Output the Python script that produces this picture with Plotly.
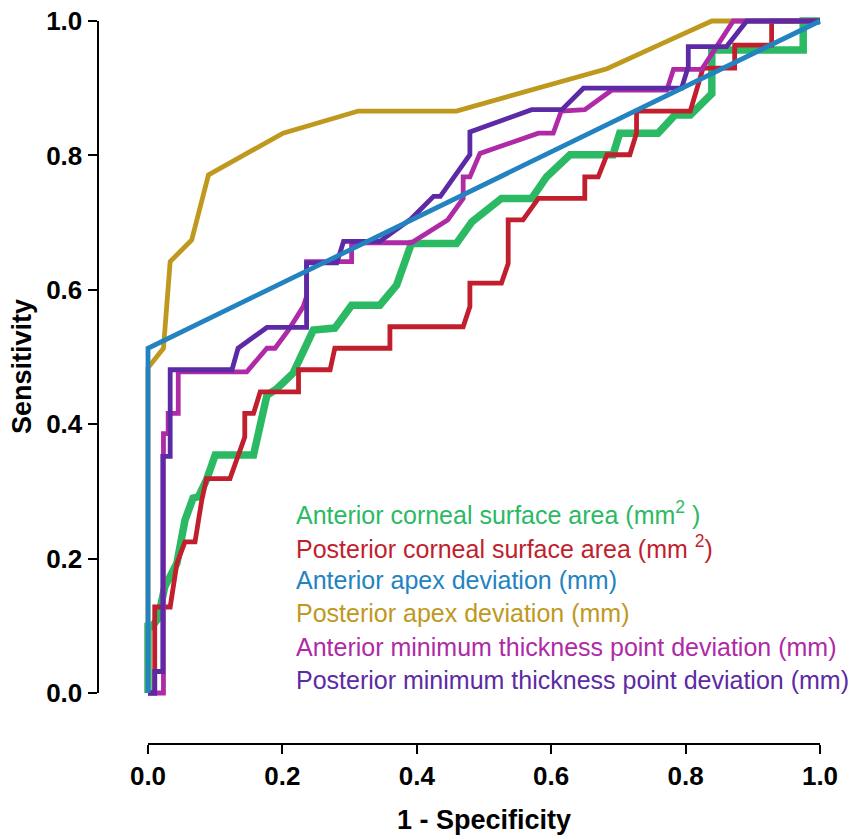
import plotly.graph_objects as go

# ---------------- data ----------------
ant_csa_fpr = [0, 0, 0.006, 0.015, 0.025, 0.043, 0.055, 0.067, 0.075, 0.087, 0.100, 0.157, 0.177, 0.192,
               0.216, 0.246, 0.278, 0.303, 0.345, 0.370, 0.392, 0.459, 0.482, 0.526, 0.571, 0.593,
               0.628, 0.692, 0.702, 0.759, 0.784, 0.807, 0.839, 0.839, 0.975, 0.975, 1.0]
ant_csa_tpr = [0, 0.099, 0.099, 0.111, 0.158, 0.193, 0.257, 0.290, 0.292, 0.317, 0.354, 0.354, 0.443, 0.453,
               0.476, 0.540, 0.543, 0.577, 0.577, 0.607, 0.669, 0.669, 0.701, 0.736, 0.736, 0.768,
               0.801, 0.801, 0.833, 0.833, 0.860, 0.860, 0.892, 0.957, 0.957, 1.0, 1.0]

post_csa_fpr = [0, 0.010, 0.010, 0.033, 0.043, 0.055, 0.070, 0.080, 0.087, 0.122, 0.144, 0.144, 0.157,
                0.167, 0.224, 0.224, 0.271, 0.278, 0.360, 0.360, 0.469, 0.479, 0.479, 0.526, 0.536,
                0.536, 0.558, 0.581, 0.650, 0.650, 0.670, 0.683, 0.717, 0.727, 0.727, 0.807, 0.826,
                0.873, 0.873, 0.928, 0.928, 1.0]
post_csa_tpr = [0, 0, 0.128, 0.128, 0.193, 0.225, 0.225, 0.287, 0.319, 0.319, 0.381, 0.416, 0.416,
                0.448, 0.448, 0.481, 0.481, 0.513, 0.513, 0.545, 0.545, 0.575, 0.610, 0.610, 0.639,
                0.704, 0.704, 0.736, 0.736, 0.768, 0.768, 0.801, 0.801, 0.833, 0.866, 0.866, 0.930,
                0.930, 0.964, 0.964, 1.0, 1.0]

ant_apex_fpr = [0, 0, 1.0]
ant_apex_tpr = [0, 0.513, 1.0]

post_apex_fpr = [0, 0, 0.023, 0.033, 0.065, 0.090, 0.201, 0.313, 0.459, 0.583, 0.683, 0.777, 0.839, 0.891, 1.0]
post_apex_tpr = [0, 0.484, 0.513, 0.642, 0.674, 0.771, 0.833, 0.866, 0.866, 0.900, 0.929, 0.972, 1.0, 1.0, 1.0]

ant_mtp_fpr = [0, 0.023, 0.023, 0.030, 0.030, 0.045, 0.045, 0.147, 0.177, 0.189, 0.209, 0.231, 0.236,
               0.236, 0.303, 0.303, 0.392, 0.446, 0.469, 0.469, 0.479, 0.494, 0.581, 0.603, 0.615,
               0.650, 0.690, 0.772, 0.782, 0.824, 0.871, 1.0]
ant_mtp_tpr = [0, 0, 0.386, 0.386, 0.416, 0.416, 0.478, 0.478, 0.513, 0.513, 0.540, 0.575, 0.590,
               0.642, 0.642, 0.670, 0.670, 0.704, 0.736, 0.768, 0.768, 0.803, 0.833, 0.833, 0.866,
               0.868, 0.897, 0.897, 0.928, 0.928, 1.0, 1.0]

post_mtp_fpr = [0, 0.010, 0.010, 0.022, 0.022, 0.033, 0.033, 0.125, 0.134, 0.177, 0.236, 0.236, 0.281,
                0.291, 0.345, 0.392, 0.425, 0.435, 0.479, 0.479, 0.571, 0.616, 0.648, 0.794, 0.804,
                0.804, 0.861, 0.891, 1.0]
post_mtp_tpr = [0, 0, 0.032, 0.032, 0.352, 0.352, 0.481, 0.481, 0.513, 0.544, 0.544, 0.640, 0.640,
                0.672, 0.672, 0.706, 0.739, 0.739, 0.801, 0.835, 0.868, 0.868, 0.900, 0.900, 0.932,
                0.962, 0.962, 1.0, 1.0]

series_names = [
    "Anterior corneal surface area (mm<sup>2</sup> )",
    "Posterior corneal surface area (mm <sup>2</sup>)",
    "Anterior apex deviation (mm)",
    "Posterior apex deviation (mm)",
    "Anterior minimum thickness point deviation (mm)",
    "Posterior minimum thickness point deviation (mm)",
]
tick_vals = [0, 0.2, 0.4, 0.6, 0.8, 1.0]
tick_text = ["0.0", "0.2", "0.4", "0.6", "0.8", "1.0"]

# ---------------- styling ----------------
OFF = 8.0                      # page body margin of the browser
W, H = 856 - int(OFF), 835 - int(OFF)
C_GREEN = "#2BBA63"
C_RED = "#C11F2E"
C_BLUE = "#2383C1"
C_GOLD = "#BE991E"
C_MAGENTA = "#AF2AA7"
C_PURPLE = "#5D2AA5"

series = [
    (ant_csa_fpr, ant_csa_tpr, C_GREEN, 7.5),
    (post_csa_fpr, post_csa_tpr, C_RED, 4.8),
    (post_apex_fpr, post_apex_tpr, C_GOLD, 4.8),
    (ant_mtp_fpr, ant_mtp_tpr, C_MAGENTA, 4.8),
    (post_mtp_fpr, post_mtp_tpr, C_PURPLE, 4.8),
    (ant_apex_fpr, ant_apex_tpr, C_BLUE, 4.8),
]


def px(x):
    return (x - OFF) / W


def py(y):
    return 1 - (y - OFF) / H


# pixel geometry in the reference window
X0, X1 = 148.0, 820.0     # x=0, x=1
Y0, Y1 = 693.0, 21.0      # y=0, y=1
pad = 0.025
pad_top = 0.015
sx = X1 - X0
sy = Y0 - Y1

fig = go.Figure()
for fx, ty, col, lw in series:
    fig.add_trace(go.Scatter(x=fx, y=ty, mode="lines",
                             line=dict(color=col, width=lw),
                             showlegend=False, hoverinfo="skip",
                             xaxis="x", yaxis="y"))

# dummy trace to create the display axes
fig.add_trace(go.Scatter(x=[None], y=[None], mode="lines", showlegend=False,
                         hoverinfo="skip", xaxis="x2", yaxis="y2"))

tick_font = dict(family="Liberation Sans, Arial, sans-serif", size=26, color="black")
tick_text_b = ["<b>%s</b>" % t for t in tick_text]

fig.update_layout(
    width=W, height=H,
    margin=dict(l=0, r=0, t=0, b=0, autoexpand=False),
    plot_bgcolor="rgba(0,0,0,0)", paper_bgcolor="white",
    xaxis=dict(domain=[px(X0 - pad * sx), px(X1 + pad * sx)], range=[-pad, 1 + pad],
               visible=False, fixedrange=True),
    yaxis=dict(domain=[py(Y0 + pad * sy), py(Y1 - pad_top * sy)], range=[-pad, 1 + pad_top],
               visible=False, fixedrange=True),
    xaxis2=dict(domain=[px(X0), px(X1)], range=[0, 1], anchor="free", position=py(744),
                showgrid=False, zeroline=False, showline=True, linecolor="black", linewidth=2,
                ticks="outside", ticklen=9, tickwidth=2, tickcolor="black",
                tickvals=tick_vals, ticktext=tick_text_b, tickfont=tick_font,
                ticklabeloverflow="allow", fixedrange=True),
    yaxis2=dict(domain=[py(Y0), py(Y1)], range=[0, 1], anchor="free", position=px(97.5),
                showgrid=False, zeroline=False, showline=True, linecolor="black", linewidth=2,
                ticks="outside", ticklen=9, tickwidth=2, tickcolor="black",
                tickvals=tick_vals, ticktext=tick_text_b, tickfont=tick_font,
                ticklabeloverflow="allow", fixedrange=True),
)

title_font = dict(family="Liberation Sans, Arial, sans-serif", size=27, color="black")
fig.add_annotation(text="<b>1 - Specificity</b>", x=px((X0 + X1) / 2), y=py(820),
                   xref="paper", yref="paper", showarrow=False, font=title_font,
                   xanchor="center", yanchor="middle")
fig.add_annotation(text="<b>Sensitivity</b>", x=px(22), y=py(367), textangle=-90,
                   xref="paper", yref="paper", showarrow=False, font=title_font,
                   xanchor="center", yanchor="middle")

legend_colors = [C_GREEN, C_RED, C_BLUE, C_GOLD, C_MAGENTA, C_PURPLE]
legend_y = [513, 547, 580, 613, 647, 680]
for name, col, ly in zip(series_names, legend_colors, legend_y):
    fig.add_annotation(text=name, x=px(294), y=py(ly), xref="paper", yref="paper",
                       showarrow=False, xanchor="left", yanchor="middle",
                       font=dict(family="Liberation Sans, Arial, sans-serif", size=25, color=col))

fig.write_html("out.html")
